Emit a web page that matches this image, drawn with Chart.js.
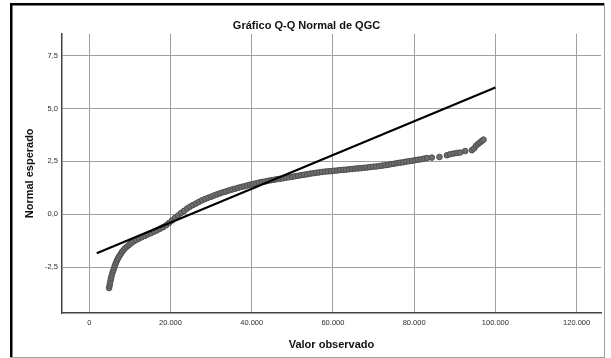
<!DOCTYPE html>
<html>
<head>
<meta charset="utf-8">
<script src="https://cdn.jsdelivr.net/npm/chart.js@4/dist/chart.umd.min.js"></script>
<style>
html,body{margin:0;padding:0;background:#fff;}
#wrap{width:611px;height:358px;}
</style>
</head>
<body>
<div id="wrap"><canvas id="c" width="611" height="358"></canvas></div>
<script>
const xObserved = [4880,5000,5120,5250,5370,5540,5740,5940,6160,6350,6600,6850,7090,7410,7760,8080,8450,8820,9310,9800,10300,10910,11530,12270,13000,13740,14480,15220,15960,16700,17440,18180,18920,19650,20390,21130,21870,22610,23350,24090,24830,25570,26300,27040,27780,28520,29260,30000,30740,31480,32220,32950,33690,34430,35170,35910,36650,37390,38130,38870,39610,40340,41080,41820,42560,43300,44040,44780,45520,46260,46990,47730,48470,49210,49950,50690,51430,52170,52910,53640,54380,55120,55860,56600,57340,58080,58820,59560,60290,61030,61770,62510,63250,63990,64730,65470,66210,66940,67680,68420,69160,69900,70640,71380,72120,72860,73590,74330,75070,75810,76550,77290,78030,78770,79510,80240,80980,81720,82460,83200,84360,86230,88050,88870,89680,90520,91330,92560,94210,94780,95270,95840,96250,96670,97070];
const yExpected = [-3.49,-3.38,-3.26,-3.14,-3.02,-2.90,-2.76,-2.65,-2.53,-2.41,-2.29,-2.18,-2.08,-1.98,-1.88,-1.78,-1.69,-1.61,-1.53,-1.45,-1.37,-1.29,-1.22,-1.15,-1.08,-1.02,-0.95,-0.89,-0.82,-0.76,-0.68,-0.61,-0.52,-0.41,-0.29,-0.17,-0.06,0.06,0.16,0.27,0.36,0.44,0.51,0.59,0.66,0.72,0.78,0.83,0.89,0.94,0.99,1.04,1.08,1.13,1.17,1.21,1.25,1.29,1.32,1.36,1.40,1.43,1.46,1.50,1.53,1.55,1.58,1.61,1.63,1.66,1.68,1.70,1.73,1.75,1.77,1.80,1.82,1.85,1.87,1.89,1.92,1.94,1.96,1.98,2.00,2.02,2.03,2.04,2.06,2.07,2.09,2.10,2.11,2.13,2.14,2.16,2.17,2.18,2.20,2.21,2.23,2.25,2.26,2.28,2.30,2.32,2.34,2.37,2.39,2.42,2.44,2.46,2.49,2.51,2.53,2.56,2.58,2.60,2.63,2.66,2.68,2.71,2.79,2.84,2.87,2.90,2.92,2.99,3.03,3.12,3.25,3.34,3.40,3.47,3.53];
// Reference normal line end points
const lineX = [1850, 100000];
const lineY = [-1.84, 6.00];
// Tick labels
const xTickValues = [0, 20000, 40000, 60000, 80000, 100000, 120000];
const xTickLabels = ['0', '20.000', '40.000', '60.000', '80.000', '100.000', '120.000'];
const yTickValues = [-2.5, 0, 2.5, 5, 7.5];
const yTickLabels = ['-2,5', '0,0', '2,5', '5,0', '7,5'];

const pts = xObserved.map((x, i) => ({x: x, y: yExpected[i]}));
const linePts = lineX.map((x, i) => ({x: x, y: lineY[i]}));

const framePlugin = {
  id: 'frame',
  afterDraw(chart) {
    const ctx = chart.ctx;
    ctx.save();
    ctx.fillStyle = '#000';
    ctx.fillRect(10, 3, 595, 2.5);
    ctx.fillRect(10, 3, 2.5, 355);
    ctx.fillStyle = '#a0a0a0';
    ctx.fillRect(604, 3, 1, 355);
    ctx.fillRect(10, 357, 595, 1);
    ctx.restore();
  }
};

const FONT = "'Liberation Sans', Arial, sans-serif";

new Chart(document.getElementById('c'), {
  type: 'scatter',
  data: {
    datasets: [
      {
        data: linePts,
        showLine: true,
        borderColor: '#000',
        borderWidth: 2.2,
        pointRadius: 0,
        order: 0
      },
      {
        data: pts,
        showLine: false,
        pointRadius: 2.8,
        pointBackgroundColor: '#6e6e6e',
        pointBorderColor: '#4e4e4e',
        pointBorderWidth: 1,
        order: 1
      }
    ]
  },
  options: {
    responsive: false,
    animation: false,
    devicePixelRatio: 1,
    layout: {padding: {left: 12, right: 10, top: 5, bottom: 3}},
    plugins: {
      legend: {display: false},
      tooltip: {enabled: false},
      title: {
        display: true,
        text: 'Gráfico Q-Q Normal de QGC',
        color: '#111',
        font: {family: FONT, size: 11, weight: 'bold'},
        padding: {top: 14, bottom: 1.5}
      }
    },
    scales: {
      x: {
        type: 'linear',
        min: -6700,
        max: 126000,
        afterFit(s) { s.height = 42; },
        afterBuildTicks(s) { s.ticks = xTickValues.map(v => ({value: v})); },
        ticks: {
          padding: 5,
          color: '#2a2a2a',
          autoSkip: false,
          font: {family: FONT, size: 7.5},
          maxRotation: 0,
          callback: (v) => { const i = xTickValues.indexOf(v); return i >= 0 ? xTickLabels[i] : ''; }
        },
        grid: {color: '#a0a0a0', lineWidth: 1, drawTicks: false},
        border: {display: true, color: '#444', width: 1.5},
        title: {
          display: true,
          text: 'Valor observado',
          color: '#111',
          font: {family: FONT, size: 11, weight: 'bold'},
          padding: {top: 0, bottom: 3.4}
        }
      },
      y: {
        type: 'linear',
        min: -4.67,
        max: 8.54,
        afterFit(s) { s.width = 50; },
        afterBuildTicks(s) { s.ticks = yTickValues.map(v => ({value: v})); },
        ticks: {
          padding: 4,
          color: '#2a2a2a',
          autoSkip: false,
          font: {family: FONT, size: 7.5},
          callback: (v) => { const i = yTickValues.findIndex(t => Math.abs(t - v) < 1e-6); return i >= 0 ? yTickLabels[i] : ''; }
        },
        grid: {color: '#a0a0a0', lineWidth: 1, drawTicks: false},
        border: {display: true, color: '#444', width: 1.5},
        title: {
          display: true,
          text: 'Normal esperado',
          color: '#111',
          font: {family: FONT, size: 11, weight: 'bold'},
          padding: {top: 11.4, bottom: 0}
        }
      }
    }
  },
  plugins: [framePlugin]
});
</script>
</body>
</html>
